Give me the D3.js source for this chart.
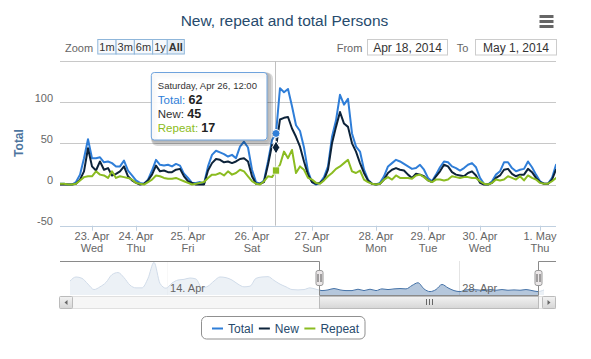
<!DOCTYPE html>
<html><head><meta charset="utf-8">
<script src="https://cdn.jsdelivr.net/npm/d3@7"></script>
<style>
body{margin:0;background:#fff}
svg{display:block;font-family:"Liberation Sans",Arial,Helvetica,sans-serif}
</style>
</head><body>
<svg id="chart" width="591" height="359"></svg>
<script>
// ---------------- data ----------------
const titleText = "New, repeat and total Persons";
const seriesNames = ["Total", "New", "Repeat"];
const seriesColors = ["#2f7ed8", "#0d233a", "#8bbc21"];

// hourly-ish points (ordinal axis: only hours with data are kept)
const totalVals = [1,1,0,0,3,12,32,55,32,32,33,27,28,26,22,22,29,17,11,5,2,1,6,17,30,24,23,24,22,25,23,13,8,2,2,3,1,22,36,41,39,37,34,36,32,46,52,45,18,3,1,5,28,54,62,117,112,116,95,72,65,45,16,3,0,2,9,22,58,78,109,97,104,62,46,40,18,6,1,0,2,10,22,26,30,28,25,22,19,20,24,18,8,4,12,21,28,27,22,20,17,20,24,26,21,8,1,0,4,12,16,27,27,20,16,18,19,28,21,12,4,1,1,8,24];
const newVals   = [0,0,0,0,1,6,16,44,22,17,28,18,20,11,13,16,22,10,5,2,0,1,5,12,23,16,17,15,15,18,19,10,4,2,0,0,0,17,26,31,30,27,28,26,28,31,32,28,10,1,1,3,24,48,45,79,81,82,68,58,46,28,12,3,1,2,6,18,50,70,88,74,70,50,40,26,14,5,1,0,1,6,14,18,20,18,17,12,8,13,12,10,5,3,10,16,24,22,15,12,11,10,14,16,11,2,0,0,2,8,11,18,19,13,10,12,12,19,15,8,3,1,1,6,18];
const repeatVals= [1,1,0,0,1,5,9,10,10,16,12,11,8,16,8,10,9,8,6,2,1,0,3,6,11,10,8,7,7,8,6,4,2,0,1,2,3,8,12,12,14,11,16,12,14,18,16,10,4,1,0,4,10,9,17,24,40,32,42,14,22,18,8,6,2,1,5,10,14,19,22,26,30,16,14,17,6,3,1,0,1,6,9,6,11,8,8,8,7,11,12,9,5,3,6,6,5,6,10,9,8,9,9,8,8,4,1,0,2,6,5,6,10,8,6,10,5,11,8,6,2,1,1,4,8];

// index of the first point of each day (midnight)
const tickIndex   = [8, 19, 32, 48, 63, 79, 92, 105, 120];
const tickDates   = ["23. Apr","24. Apr","25. Apr","26. Apr","27. Apr","28. Apr","29. Apr","30. Apr","1. May"];
const tickDays    = ["Wed","Thu","Fri","Sat","Sun","Mon","Tue","Wed","Thu"];

const yTicks = [-50, 0, 50, 100, 150];
const yTickLabels = ["-50", "0", "50", "100", ""];
const yTitle = "Total";

// hovered point
const hoverIndex = 54;
const hoverHeader = "Saturday, Apr 26, 12:00";

// navigator (longer period, total)
const navVals = [41,53,49,32,16,24,37,60,66,51,29,21,21,49,96,34,20,35,44,46,50,47,21,26,41,53,51,44,32,24,26,49,53,54,43,32,24,16,15,16,21,17,13,15,19,15,13,13,17,13,17,13,18,16,18,19,18,28,36,18,10,16,31,21,13,10,15,16,15,13,16,14,16,14,15,14,16,13,10,15];
const navTickIndex  = [16.1, 64.8];
const navTickLabels = ["14. Apr", "28. Apr"];
const navRange = [41.55, 78.05];

const zoomButtons = ["1m","3m","6m","1y","All"];
const fromDate = "Apr 18, 2014";
const toDate = "May 1, 2014";

// ---------------- layout ----------------
const svg = d3.select("#chart");
const plot = {left: 60, right: 556, top: 61, bottom: 225.7};
const nav = {top: 261, bottom: 295};
const sb = {top: 296, bottom: 308};

const x = d3.scaleLinear().domain([0, totalVals.length - 1]).range([plot.left, plot.right]);
const y = d3.scaleLinear().domain([-50, 150]).range([plot.bottom, plot.top]);
const navX = d3.scaleLinear().domain([0, navVals.length - 1]).range([70, 544]);
const navY = d3.scaleLinear().domain([0, 100]).range([nav.bottom, nav.top]);

// title
svg.append("text").attr("x", 284.5).attr("y", 26).attr("text-anchor", "middle")
  .attr("font-size", "15.5px").attr("fill", "#274b6d").text(titleText);

// menu icon
[0,1,2].forEach(k => svg.append("rect").attr("x", 539.5).attr("y", 15 + k*5).attr("width", 14).attr("height", 3).attr("fill", "#666"));

// range selector
svg.append("text").attr("x", 65).attr("y", 51.5).attr("font-size", "11px").attr("fill", "#666").text("Zoom");
let bx = 97.3;
zoomButtons.forEach((b, k) => {
  const g = svg.append("g");
  const t = g.append("text").attr("font-size", "11px").attr("fill", "#333")
    .attr("font-weight", b === "All" ? "bold" : "normal").text(b);
  const w = t.node().getComputedTextLength() + 3;
  g.insert("rect", "text").attr("x", bx + 0.5).attr("y", 39.5).attr("width", w).attr("height", 14.5)
    .attr("fill", b === "All" ? "#e4edf6" : "#f7f9fc").attr("stroke", "#8fb6da");
  t.attr("x", bx + 0.5 + w/2).attr("y", 50.5).attr("text-anchor", "middle");
  bx += w;
});
svg.append("text").attr("x", 336.7).attr("y", 51.5).attr("font-size", "11px").attr("fill", "#666").text("From");
svg.append("rect").attr("x", 367.5).attr("y", 39.5).attr("width", 80).attr("height", 15.5).attr("fill", "#fff").attr("stroke", "#ccc");
svg.append("text").attr("x", 407.5).attr("y", 51.5).attr("text-anchor", "middle").attr("font-size", "12px").attr("fill", "#333").text(fromDate);
svg.append("text").attr("x", 456.7).attr("y", 51.5).attr("font-size", "11px").attr("fill", "#666").text("To");
svg.append("rect").attr("x", 475.5).attr("y", 39.5).attr("width", 81).attr("height", 15.5).attr("fill", "#fff").attr("stroke", "#ccc");
svg.append("text").attr("x", 516).attr("y", 51.5).attr("text-anchor", "middle").attr("font-size", "12px").attr("fill", "#333").text(toDate);

// grid + y labels
yTicks.forEach((v, k) => {
  const yy = Math.round(y(v)) + 0.5;
  svg.append("line").attr("x1", plot.left).attr("x2", plot.right).attr("y1", yy).attr("y2", yy)
    .attr("stroke", v === -50 ? "#C0D0E0" : "#C8C8C8").attr("stroke-width", 1);
  if (yTickLabels[k]) svg.append("text").attr("x", 53).attr("y", y(v) - 0.5).attr("text-anchor", "end")
    .attr("font-size", "11px").attr("fill", "#666").text(yTickLabels[k]);
});
svg.append("text").attr("transform", "translate(22.5,143) rotate(-90)").attr("text-anchor", "middle")
  .attr("font-size", "12px").attr("font-weight", "bold").attr("fill", "#4d759e").text(yTitle);

// x ticks and labels
tickIndex.forEach((ti, k) => {
  const xx = Math.round(x(ti)) + 0.5;
  svg.append("line").attr("x1", xx).attr("x2", xx).attr("y1", plot.bottom).attr("y2", plot.bottom + 5)
    .attr("stroke", "#C0D0E0");
  svg.append("text").attr("x", x(ti)).attr("y", 240).attr("text-anchor", "middle").attr("font-size", "11px").attr("fill", "#666").text(tickDates[k]);
  svg.append("text").attr("x", x(ti)).attr("y", 251.5).attr("text-anchor", "middle").attr("font-size", "11px").attr("fill", "#666").text(tickDays[k]);
});

// crosshair
const hx = x(hoverIndex);
svg.append("line").attr("x1", Math.round(hx) - 0.5).attr("x2", Math.round(hx) - 0.5).attr("y1", plot.top).attr("y2", plot.bottom).attr("stroke", "#C0C0C0");

// series
svg.append("clipPath").attr("id", "pc").append("rect").attr("x", plot.left).attr("y", plot.top - 5)
  .attr("width", plot.right - plot.left).attr("height", plot.bottom - plot.top + 5);
const line = d3.line().x((d, i) => x(i)).y(d => y(d));
const allSeries = [totalVals, newVals, repeatVals];
allSeries.forEach((s, k) => {
  svg.append("path").attr("d", line(s)).attr("fill", "none").attr("stroke", seriesColors[k])
    .attr("stroke-width", 2).attr("stroke-linejoin", "round").attr("stroke-linecap", "round").attr("clip-path", "url(#pc)");
});
// hover markers
svg.append("circle").attr("cx", hx).attr("cy", y(totalVals[hoverIndex])).attr("r", 4).attr("fill", seriesColors[0]).attr("stroke", "#fff").attr("stroke-width", 1);
svg.append("path").attr("d", d3.symbol(d3.symbolDiamond, 50)()).attr("transform", `translate(${hx},${y(newVals[hoverIndex])})`).attr("fill", seriesColors[1]).attr("stroke", "#fff").attr("stroke-width", 1);
svg.append("rect").attr("x", hx - 3.6).attr("y", y(repeatVals[hoverIndex]) - 3.6).attr("width", 7.2).attr("height", 7.2).attr("fill", seriesColors[2]).attr("stroke", "#fff").attr("stroke-width", 0.8);

// tooltip
const tip = svg.append("g");
const tbx = hx - 124.7, tby = 72.5, tbw = 115.7, tbh = 67.5;
[3,2,1].forEach(o => tip.append("rect").attr("x", tbx + o).attr("y", tby + o).attr("width", tbw).attr("height", tbh).attr("rx", 3)
  .attr("fill", "none").attr("stroke", "rgba(0,0,0," + (0.05 * o) + ")").attr("stroke-width", 2 * o));
tip.append("rect").attr("x", tbx).attr("y", tby).attr("width", tbw).attr("height", tbh).attr("rx", 3)
  .attr("fill", "rgba(255,255,255,0.9)").attr("stroke", "#6fa3dd").attr("stroke-width", 1);
tip.append("text").attr("x", tbx + 6.5).attr("y", 89).attr("font-size", "9.5px").attr("fill", "#333").text(hoverHeader);
const tipVals = [totalVals[hoverIndex], newVals[hoverIndex], repeatVals[hoverIndex]];
[104.3, 117.7, 131.5].forEach((by, k) => {
  const t = tip.append("text").attr("x", tbx + 6.5).attr("y", by).attr("font-size", "11.5px");
  t.append("tspan").attr("fill", seriesColors[k] === "#0d233a" ? "#333" : seriesColors[k]).text(seriesNames[k] + ": ");
  t.append("tspan").attr("fill", "#222").attr("font-weight", "bold").attr("font-size", "12.5px").text(tipVals[k]);
});

// ---------------- navigator ----------------
svg.append("clipPath").attr("id", "nc").append("rect").attr("x", plot.left).attr("y", nav.top).attr("width", plot.right - plot.left).attr("height", nav.bottom - nav.top);
navTickIndex.forEach((ti, k) => {
  const xx = Math.round(navX(ti)) + 0.5;
  svg.append("line").attr("x1", xx).attr("x2", xx).attr("y1", nav.top).attr("y2", nav.bottom).attr("stroke", "#e4e4e4");
});
const navArea = d3.area().curve(d3.curveMonotoneX).x((d, i) => navX(i)).y0(nav.bottom).y1(d => navY(d));
const navLine = d3.line().curve(d3.curveMonotoneX).x((d, i) => navX(i)).y(d => navY(d));
svg.append("path").attr("d", navArea(navVals)).attr("fill", "#4572A7").attr("fill-opacity", 0.4).attr("clip-path", "url(#nc)");
svg.append("path").attr("d", navLine(navVals)).attr("fill", "none").attr("stroke", "#4572A7").attr("stroke-width", 1).attr("clip-path", "url(#nc)");
const selL = navX(navRange[0]), selR = navX(navRange[1]);
// masks
svg.append("rect").attr("x", plot.left).attr("y", nav.top).attr("width", selL - plot.left).attr("height", nav.bottom - nav.top).attr("fill", "rgba(255,255,255,0.75)");
svg.append("rect").attr("x", selR).attr("y", nav.top).attr("width", plot.right - selR).attr("height", nav.bottom - nav.top).attr("fill", "rgba(255,255,255,0.75)");
navTickIndex.forEach((ti, k) => {
  svg.append("text").attr("x", navX(ti) + 3.5).attr("y", 292).attr("font-size", "11px").attr("fill", "#666").text(navTickLabels[k]);
});
// outline
const oL = Math.round(selL) + 0.5, oR = Math.round(selR) + 0.5;
svg.append("path").attr("d", `M${plot.left},${nav.top + 0.5}H${oL}V${nav.bottom + 0.5}H${oR}V${nav.top + 0.5}H${plot.right}`)
  .attr("fill", "none").attr("stroke", "#8a8a8a").attr("stroke-width", 1);

// scrollbar
const grad = svg.append("defs").append("linearGradient").attr("id", "sbg").attr("x1", 0).attr("x2", 0).attr("y1", 0).attr("y2", 1);
grad.append("stop").attr("offset", 0).attr("stop-color", "#f2f2f2");
grad.append("stop").attr("offset", 1).attr("stop-color", "#d6d6d6");
svg.append("rect").attr("x", plot.left + 0.5).attr("y", sb.top + 0.5).attr("width", plot.right - plot.left - 1).attr("height", sb.bottom - sb.top)
  .attr("fill", "#f6f6f6").attr("stroke", "#e0e0e0");
svg.append("rect").attr("x", oL).attr("y", sb.top + 0.5).attr("width", oR - oL).attr("height", sb.bottom - sb.top)
  .attr("fill", "url(#sbg)").attr("stroke", "#bbb");
const gc = Math.round((oL + oR) / 2) + 0.5;
[-3, 0, 3].forEach(d => svg.append("line").attr("x1", gc + d).attr("x2", gc + d).attr("y1", 299).attr("y2", 305).attr("stroke", "#666"));
[[59.5, "L"], [542.5, "R"]].forEach(([bxx, dir]) => {
  svg.append("rect").attr("x", bxx).attr("y", sb.top + 0.5).attr("width", 13).attr("height", sb.bottom - sb.top).attr("rx", 1)
    .attr("fill", "url(#sbg)").attr("stroke", "#bbb");
  const cx = bxx + 6.5, cy = (sb.top + sb.bottom) / 2 + 0.5;
  const p = dir === "L" ? `M${cx + 1.5},${cy - 2.5}L${cx - 1.5},${cy}L${cx + 1.5},${cy + 2.5}Z` : `M${cx - 1.5},${cy - 2.5}L${cx + 1.5},${cy}L${cx - 1.5},${cy + 2.5}Z`;
  svg.append("path").attr("d", p).attr("fill", "#666");
});
// handles
[oL, oR].forEach(hxx => {
  svg.append("rect").attr("x", hxx - 3.5).attr("y", 270.5).attr("width", 7).attr("height", 15).attr("rx", 2)
    .attr("fill", "#ebe7e8").attr("stroke", "#999");
  [-1.5, 1.5].forEach(d => svg.append("line").attr("x1", hxx + d).attr("x2", hxx + d).attr("y1", 274).attr("y2", 282).attr("stroke", "#555"));
});

// ---------------- legend ----------------
const lg = svg.append("g");
lg.append("rect").attr("x", 201.5).attr("y", 316.5).attr("width", 163.5).attr("height", 22.5).attr("rx", 5)
  .attr("fill", "#fff").attr("stroke", "#909090");
let lx = 212;
seriesNames.forEach((n, k) => {
  lg.append("line").attr("x1", lx).attr("x2", lx + 11).attr("y1", 328.5).attr("y2", 328.5).attr("stroke", seriesColors[k]).attr("stroke-width", 2);
  const t = lg.append("text").attr("x", lx + 16).attr("y", 332.5).attr("font-size", "12px").attr("fill", "#274b6d").text(n);
  lx += 16 + t.node().getComputedTextLength() + 5.5;
});
</script>
</body></html>
